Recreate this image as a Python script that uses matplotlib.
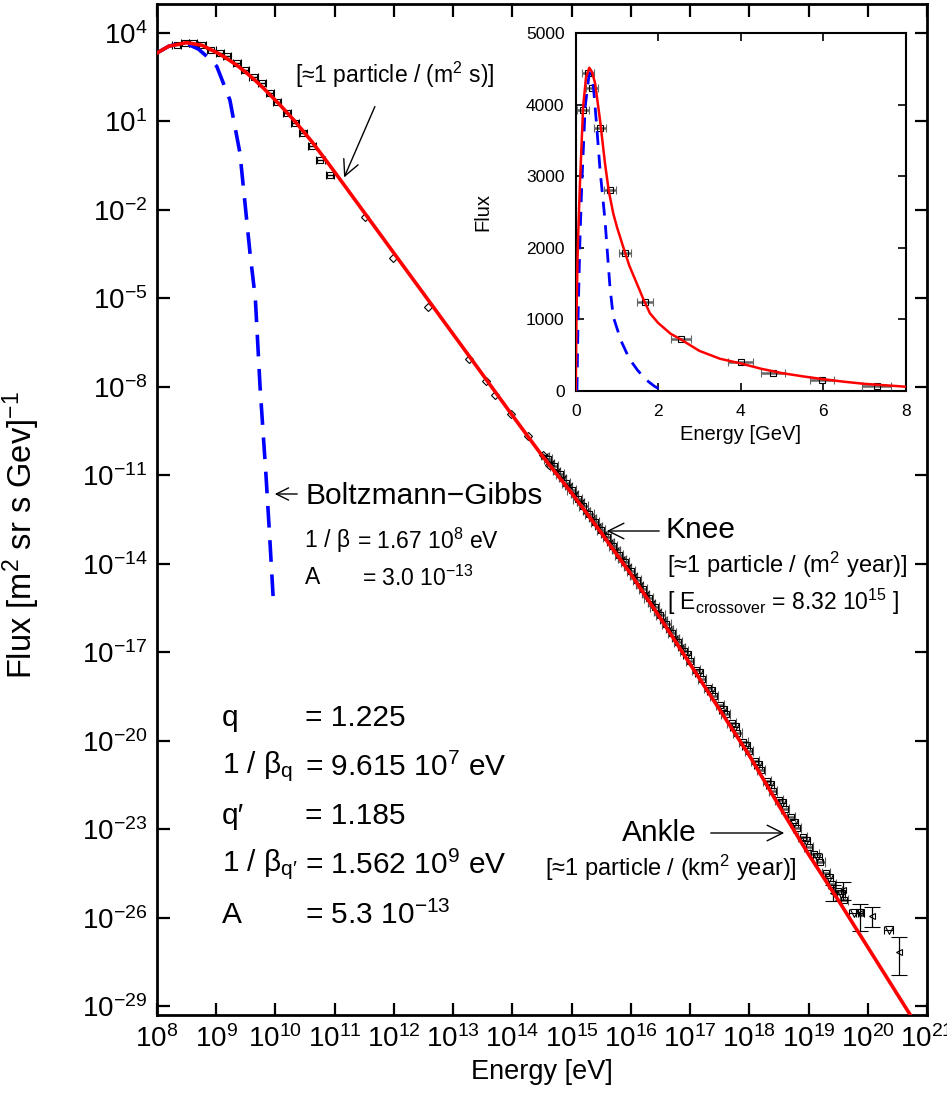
import numpy as np
import matplotlib
matplotlib.use("Agg")
import matplotlib.pyplot as plt

plt.rcParams['font.family'] = ['Liberation Sans', 'DejaVu Sans']
plt.rcParams['mathtext.fontset'] = 'custom'
plt.rcParams['mathtext.rm'] = 'Liberation Sans'
plt.rcParams['mathtext.it'] = 'Liberation Sans:italic'
plt.rcParams['mathtext.bf'] = 'Liberation Sans:bold'
plt.rcParams['mathtext.sf'] = 'Liberation Sans'

# ---------------- data (log10 values) ----------------
# Tsallis fit (red), main panel: log10 E [eV], log10 flux
fit_logE = [8.0, 8.2, 8.5, 8.76, 8.92, 9.06, 9.18, 9.35, 9.49, 9.63, 9.77, 9.91, 10.08,
            10.33, 10.62, 10.92, 11.15, 11.51, 11.99, 12.58, 13.26, 14.0, 14.5, 15.0,
            15.5, 16.0, 16.5, 17.0, 17.5, 18.0, 18.5, 19.0, 19.5, 20.0, 20.5, 21.0]
fit_logF = [3.32, 3.55, 3.67, 3.58, 3.42, 3.28, 3.13, 2.9, 2.68, 2.44, 2.18, 1.9, 1.55,
            1.0, 0.3, -0.5, -1.13, -2.12, -3.44, -5.06, -6.93, -8.97, -10.33, -11.6,
            -12.95, -14.35, -15.85, -17.4, -18.95, -20.5, -22.2, -23.85, -25.4, -27.0,
            -28.6, -30.2]

# Boltzmann-Gibbs fit (blue dashed), main panel
bg_logE = [8.0, 8.2, 8.45, 8.7, 8.9, 9.01, 9.23, 9.40, 9.57, 9.66, 9.74, 9.84, 9.90, 9.96]
bg_logF = [3.32, 3.55, 3.68, 3.45, 3.1, 2.86, 1.73, -0.07, -3.46, -5.0, -8.0, -11.0, -13.0, -15.1]

# low energy data (squares, horizontal error bars)
low_logE = [8.33, 8.47, 8.61, 8.76, 8.92, 9.06, 9.18, 9.35, 9.49, 9.63, 9.77, 9.91,
            10.02, 10.19, 10.33, 10.47, 10.62, 10.76, 10.92]
low_logF = [3.59, 3.65, 3.65, 3.59, 3.42, 3.31, 3.20, 2.97, 2.75, 2.52, 2.30, 1.96,
            1.67, 1.28, 0.94, 0.60, 0.15, -0.31, -0.81]

# intermediate data (diamonds)
dia_logE = [11.51, 11.99, 12.58, 13.26, 13.56, 13.71, 13.97, 14.26, 14.51, 14.61]
dia_logF = [-2.24, -3.62, -5.28, -7.06, -7.80, -8.27, -8.93, -9.66, -10.31, -10.64]

# high energy data (squares with error bars)
hi_logE = [14.6, 14.7, 14.8, 14.9, 15.0, 15.1, 15.2, 15.3, 15.4, 15.5, 15.6, 15.7, 15.8,
           15.9, 16.0, 16.1, 16.2, 16.3, 16.4, 16.5, 16.6, 16.7, 16.8, 16.9, 17.0, 17.1,
           17.2, 17.3, 17.4, 17.5, 17.6, 17.7, 17.8, 17.9, 18.0, 18.1, 18.2, 18.3, 18.4,
           18.5, 18.6, 18.7, 18.8, 18.9, 19.0, 19.1, 19.2, 19.3, 19.4, 19.5, 19.6]
hi_logF = [-10.45, -10.7, -10.95, -11.25, -11.5, -11.8, -12.05, -12.3, -12.6, -12.85,
           -13.1, -13.4, -13.7, -13.95, -14.25, -14.55, -14.85, -15.15, -15.45, -15.75,
           -16.05, -16.35, -16.65, -16.95, -17.3, -17.6, -17.9, -18.2, -18.5, -18.8,
           -19.1, -19.4, -19.75, -20.05, -20.35, -20.7, -21.0, -21.35, -21.7, -22.0,
           -22.3, -22.6, -22.95, -23.25, -23.6, -23.85, -24.1, -24.5, -24.85, -25.1, -25.4]

# another experiment (crosses) around the knee
crs_logE = [14.55, 14.65, 14.75, 14.85, 14.95, 15.05, 15.15, 15.25, 15.35, 15.45, 15.55,
            15.65, 15.75, 15.85, 15.95, 16.05, 16.15, 16.25, 16.35, 16.45, 16.55, 16.65,
            16.75, 16.85]
crs_logF = [-10.33, -10.58, -10.85, -11.1, -11.38, -11.65, -11.92, -12.2, -12.45, -12.72,
            -13.0, -13.27, -13.55, -13.85, -14.12, -14.42, -14.72, -15.02, -15.32, -15.62,
            -15.92, -16.22, -16.52, -16.82]

# open down-triangles
tri_logE = [16.95, 17.15, 17.35, 17.55, 17.75, 17.95, 18.15, 18.35, 18.55, 18.75, 18.95,
            19.15, 19.35, 19.55, 19.76, 19.87, 20.35]
tri_logF = [-17.1, -17.72, -18.33, -18.95, -19.55, -20.17, -20.82, -21.5, -22.12, -22.8,
            -23.4, -23.95, -24.65, -25.2, -25.84, -25.84, -26.41]

# sparse highest-energy data with vertical error bars
top_logE = [19.42, 19.59, 19.87, 20.07, 20.52]
top_logF = [-25.16, -25.05, -25.84, -25.95, -27.18]
top_err_lo = [-25.45, -25.4, -26.46, -26.32, -27.93]
top_err_hi = [-24.9, -24.8, -25.53, -25.64, -26.67]

# inset data (GeV, flux)
in_E = [0.17, 0.30, 0.39, 0.59, 0.83, 1.19, 1.68, 2.55, 4.0, 4.78, 5.97, 7.30]
in_F = [3925, 4446, 4236, 3677, 2807, 1932, 1239, 726, 400, 250, 160, 70]
in_Eerr = [0.15, 0.15, 0.15, 0.15, 0.15, 0.15, 0.2, 0.25, 0.3, 0.3, 0.3, 0.35]

in_fit_E = [0.0, 0.02, 0.05, 0.1, 0.18, 0.25, 0.33, 0.4, 0.47, 0.59, 0.71, 0.8, 0.91,
            1.0, 1.15, 1.3, 1.48, 1.65, 1.8, 2.0, 2.3, 2.55, 3.0, 3.5, 4.0, 4.5, 5.0,
            5.5, 6.0, 6.5, 7.0, 7.5, 8.0]
in_fit_F = [0, 1085, 2000, 2853, 3970, 4380, 4515, 4450, 4297, 3785, 3180, 2800, 2481,
            2290, 2015, 1750, 1504, 1270, 1085, 950, 800, 720, 560, 450, 385, 310, 250,
            205, 165, 130, 100, 80, 60]
in_bg_E = [0.03, 0.06, 0.1, 0.145, 0.23, 0.33, 0.43, 0.51, 0.59, 0.71, 0.83, 0.91, 1.1,
           1.3, 1.5, 1.7, 1.9, 2.05]
in_bg_F = [0, 1085, 2050, 2853, 3970, 4445, 4250, 3690, 3087, 2388, 1457, 1038, 700,
           450, 290, 160, 70, 20]

# ---------------- figure ----------------
W, H = 947, 1097
fig = plt.figure(figsize=(W / 100, H / 100), dpi=100)

def fx(px):
    return px / W

def fy(py):
    return 1 - py / H

ax = fig.add_axes([fx(157), fy(1015), fx(927) - fx(157), fy(4) - fy(1015)])
ax.set_xscale('log')
ax.set_yscale('log')
ax.set_xlim(1e8, 1e21)
ax.set_ylim(10 ** -29.3, 10 ** 4.98)

p10 = lambda a: 10 ** np.asarray(a, dtype=float)

def herr(E, d=0.07):
    return [E - E / 10 ** d, E * 10 ** d - E]

# data
hiE = p10(hi_logE)
ax.errorbar(hiE, p10(hi_logF), xerr=herr(hiE),
            fmt='s', ms=4, mfc='none', mec='black', mew=0.8, ecolor='0.35',
            elinewidth=1.8, capsize=3.5, capthick=0.9, zorder=3)
cE = p10(crs_logE)
ax.errorbar(cE, p10(crs_logF), xerr=herr(cE, 0.06),
            fmt='x', ms=5, mec='black', mew=0.9, ecolor='0.3',
            elinewidth=1.5, capsize=3, capthick=0.9, zorder=3)
triE = p10(tri_logE)
ax.errorbar(triE, p10(tri_logF), xerr=herr(triE),
            fmt='v', ms=6, mfc='none', mec='black', mew=0.8, ecolor='black',
            elinewidth=0.8, capsize=3, capthick=0.8, zorder=3)
lowE = p10(low_logE)
ax.errorbar(lowE, p10(low_logF), xerr=herr(lowE),
            fmt='s', ms=5, mfc='none', mec='black', mew=0.8, ecolor='black',
            elinewidth=1.0, capsize=3, capthick=0.9, zorder=3)
ax.plot(p10(dia_logE), p10(dia_logF), 'D', ms=4, mfc='none', mec='black', mew=0.8, zorder=3)
tF = p10(top_logF)
ax.errorbar(p10(top_logE), tF, yerr=[tF - p10(top_err_lo), p10(top_err_hi) - tF],
            fmt='<', ms=5, mfc='none', mec='black', mew=0.8, ecolor='black',
            elinewidth=0.9, capsize=6, capthick=0.9, zorder=3)

ax.plot(p10(bg_logE), p10(bg_logF), color='#0000ff', lw=2.6, dashes=(6, 3.5), zorder=4)
ax.plot(p10(fit_logE), p10(fit_logF), color='#ff0000', lw=2.6, zorder=5)

ax.set_xticks(p10(np.arange(8, 22)))
ax.set_yticks(p10(np.arange(4, -30, -3)))
ax.minorticks_off()
ax.tick_params(which='both', direction='in', top=True, right=True, length=9, width=1.6,
               labelsize=20, pad=7)
for s in ax.spines.values():
    s.set_linewidth(2.0)
ax.set_xlabel('Energy [eV]', fontsize=19.5, labelpad=5)
ax.set_ylabel('Flux [m$^2$ sr s Gev]$^{-1}$', fontsize=23.5, va='center')
ax.yaxis.set_label_coords(-0.176, 0.475)

# annotations
def ftext(px, py, s, size, **kw):
    fig.text(fx(px), fy(py), s, fontsize=size, va='center', ha='left', **kw)

BIG = 21.5
MED = 16.5

ftext(295, 75, '[≈1 particle / (m$^2$ s)]', MED)
ax.annotate('', xy=(fx(343), fy(180)), xycoords='figure fraction',
            xytext=(fx(376), fy(104)), textcoords='figure fraction',
            arrowprops=dict(arrowstyle='->', lw=1.0, color='black', mutation_scale=28))

ftext(305, 496, 'Boltzmann−Gibbs', BIG)
ax.annotate('', xy=(fx(272), fy(494)), xycoords='figure fraction',
            xytext=(fx(300), fy(494)), textcoords='figure fraction',
            arrowprops=dict(arrowstyle='->', lw=1.0, color='black', mutation_scale=22))
ftext(305, 541, '1 / β', MED)
ftext(357, 541, '= 1.67 10$^8$ eV', MED)
ftext(305, 578, 'A', MED)
ftext(362, 578, '= 3.0 10$^{−13}$', MED)

ftext(665, 530, 'Knee', BIG)
ax.annotate('', xy=(fx(604), fy(531)), xycoords='figure fraction',
            xytext=(fx(662), fy(531)), textcoords='figure fraction',
            arrowprops=dict(arrowstyle='->', lw=1.0, color='black', mutation_scale=28))
ftext(667, 565, '[≈1 particle / (m$^2$ year)]', 17)
ftext(667, 602, '[ E$_{\\rm crossover}$ = 8.32 10$^{15}$ ]', MED)

ftext(622, 833, 'Ankle', BIG)
ax.annotate('', xy=(fx(787), fy(833)), xycoords='figure fraction',
            xytext=(fx(708), fy(833)), textcoords='figure fraction',
            arrowprops=dict(arrowstyle='->', lw=1.0, color='black', mutation_scale=28))
ftext(545, 868, '[≈1 particle / (km$^2$ year)]', 17)

ftext(222, 718, 'q', BIG)
ftext(305, 718, '= 1.225', BIG)
ftext(222, 767, '1 / β$_{\\rm q}$', BIG)
ftext(305, 767, '= 9.615 10$^7$ eV', BIG)
ftext(222, 816, 'q′', BIG)
ftext(305, 816, '= 1.185', BIG)
ftext(222, 865, '1 / β$_{\\rm q′}$', BIG)
ftext(305, 865, '= 1.562 10$^9$ eV', BIG)
ftext(222, 915, 'A', BIG)
ftext(305, 915, '= 5.3 10$^{−13}$', BIG)

# ---------------- inset ----------------
ia = fig.add_axes([fx(575.7), fy(391), fx(905.7) - fx(575.7), fy(33) - fy(391)])
ia.set_xlim(0, 8)
ia.set_ylim(0, 5000)
ia.errorbar(in_E, in_F, xerr=in_Eerr, fmt='s', ms=5, mfc='none', mec='black', mew=0.8,
            ecolor='0.4', elinewidth=1.8, capsize=3, capthick=0.9, zorder=3)
ia.plot(in_bg_E, in_bg_F, color='#0000ff', lw=2.0, dashes=(5, 3.5), zorder=4)
ia.plot(in_fit_E, in_fit_F, color='#ff0000', lw=1.8, zorder=5)
ia.set_xticks([0, 2, 4, 6, 8])
ia.set_yticks([0, 1000, 2000, 3000, 4000, 5000])
ia.tick_params(direction='in', top=True, right=True, length=6, width=1.2, labelsize=12.5)
ia.tick_params(axis='x', pad=9)
ia.tick_params(axis='y', pad=8)
for s in ia.spines.values():
    s.set_linewidth(1.5)
ia.set_xlabel('Energy [GeV]', fontsize=14.5, labelpad=5)
ia.set_ylabel('Flux', fontsize=14.5, va='center')
ia.yaxis.set_label_coords(-0.28, 0.5)

fig.savefig('out.png', dpi=100)
